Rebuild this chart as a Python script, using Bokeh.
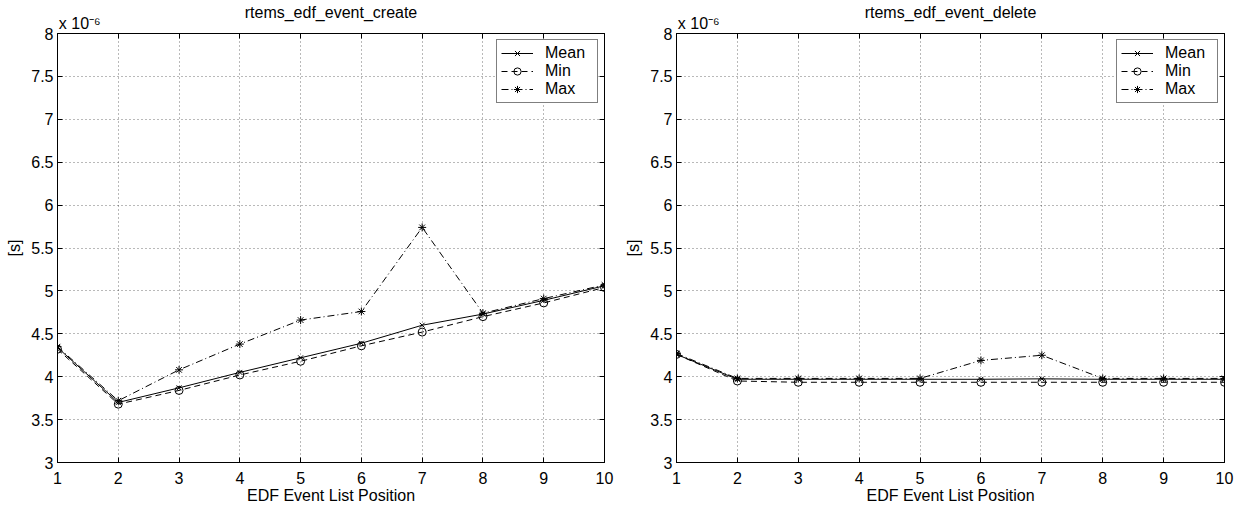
from bokeh.plotting import figure
from bokeh.models import Range1d, FixedTicker, LinearAxis, Legend, LegendItem
from bokeh.layouts import row
from bokeh.embed import file_html
from bokeh.resources import INLINE

# ---------------- data (values in units of 1e-6 s) ----------------
positions = [1, 2, 3, 4, 5, 6, 7, 8, 9, 10]
x_ticks = [1, 2, 3, 4, 5, 6, 7, 8, 9, 10]
y_ticks = [3, 3.5, 4, 4.5, 5, 5.5, 6, 6.5, 7, 7.5, 8]
y_tick_labels = ["3", "3.5", "4", "4.5", "5", "5.5", "6", "6.5", "7", "7.5", "8"]

titles = ["rtems_edf_event_create", "rtems_edf_event_delete"]
x_label = "EDF Event List Position"
y_label = "[s]"
scale_text = "x 10\u207b\u2076"
series_names = ["Mean", "Min", "Max"]

create_mean = [4.34, 3.70, 3.87, 4.05, 4.22, 4.39, 4.60, 4.73, 4.89, 5.06]
create_min = [4.32, 3.68, 3.84, 4.02, 4.18, 4.36, 4.52, 4.70, 4.86, 5.04]
create_max = [4.35, 3.72, 4.08, 4.38, 4.66, 4.76, 5.74, 4.74, 4.91, 5.07]

delete_mean = [4.26, 3.97, 3.97, 3.97, 3.97, 3.97, 3.975, 3.97, 3.97, 3.97]
delete_min = [4.26, 3.95, 3.935, 3.935, 3.935, 3.935, 3.935, 3.935, 3.935, 3.935]
delete_max = [4.27, 3.98, 3.98, 3.98, 3.98, 4.19, 4.25, 3.98, 3.98, 3.98]

FONT = "Liberation Sans"
FS = "16px"
NBSP = "\u00a0"


def style_axis(ax):
    ax.major_tick_in = 5
    ax.major_tick_out = 0
    ax.minor_tick_in = 0
    ax.minor_tick_out = 0
    ax.axis_line_color = "black"
    ax.major_tick_line_color = "black"
    ax.major_label_text_font = FONT
    ax.major_label_text_font_size = FS
    ax.major_label_text_color = "black"
    ax.axis_label_text_font = FONT
    ax.axis_label_text_font_size = FS
    ax.axis_label_text_font_style = "normal"
    ax.axis_label_text_color = "black"


def make_panel(title, mean_vals, min_vals, max_vals, width, bl, br):
    p = figure(width=width, height=506, x_range=Range1d(1, 10), y_range=Range1d(3, 8),
               output_backend="svg", toolbar_location=None,
               min_border_left=bl, min_border_right=br,
               min_border_top=30, min_border_bottom=44)
    p.outline_line_color = "black"
    p.outline_line_width = 1
    p.background_fill_color = "white"
    p.border_fill_color = "white"

    p.xaxis.ticker = FixedTicker(ticks=x_ticks)
    p.yaxis.ticker = FixedTicker(ticks=y_ticks)
    p.yaxis.major_label_overrides = {v: s for v, s in zip(y_ticks, y_tick_labels)}
    style_axis(p.xaxis[0])
    style_axis(p.yaxis[0])
    p.xaxis.axis_label = x_label
    p.xaxis.major_label_standoff = 9
    p.xaxis.axis_label_standoff = 0
    p.yaxis.axis_label = y_label
    p.yaxis.major_label_standoff = 4
    p.yaxis.axis_label_standoff = 5

    # top axis: tick marks, exponent note (left) and panel title (centered)
    top_labels = {t: "" for t in x_ticks}
    top_labels[x_ticks[0]] = NBSP * 10 + scale_text
    top = LinearAxis(ticker=FixedTicker(ticks=x_ticks), major_label_overrides=top_labels,
                     axis_label=title)
    style_axis(top)
    top.major_label_standoff = 2
    top.axis_label_standoff = -9
    p.add_layout(top, "above")

    right = LinearAxis(ticker=FixedTicker(ticks=y_ticks),
                       major_label_overrides={t: "" for t in y_ticks})
    style_axis(right)
    right.major_label_standoff = 0
    p.add_layout(right, "right")

    p.xgrid.ticker = FixedTicker(ticks=x_ticks)
    p.ygrid.ticker = FixedTicker(ticks=y_ticks)
    for g in (p.xgrid[0], p.ygrid[0]):
        g.grid_line_color = "black"
        g.grid_line_alpha = 0.55
        g.grid_line_dash = "1 3"
        g.grid_line_width = 1

    l1 = p.line(positions, mean_vals, line_color="black", line_width=1)
    s1 = p.scatter(positions, mean_vals, marker="x", size=7, line_color="black", line_width=1)
    l2 = p.line(positions, min_vals, line_color="black", line_width=1, line_dash="6 4")
    s2 = p.scatter(positions, min_vals, marker="circle", size=8, line_color="black",
                   fill_color=None, line_width=1)
    l3 = p.line(positions, max_vals, line_color="black", line_width=1, line_dash="7 3 1 3")
    s3 = p.scatter(positions, max_vals, marker="asterisk", size=8, line_color="black", line_width=1)

    legend = Legend(items=[LegendItem(label=series_names[0], renderers=[l1, s1]),
                           LegendItem(label=series_names[1], renderers=[l2, s2]),
                           LegendItem(label=series_names[2], renderers=[l3, s3])],
                    location="top_right")
    legend.border_line_color = "black"
    legend.border_line_width = 1
    legend.background_fill_color = "white"
    legend.background_fill_alpha = 1
    legend.padding = 4
    legend.spacing = 0
    legend.margin = 6
    legend.glyph_width = 32
    legend.glyph_height = 18
    legend.label_height = 18
    legend.label_width = 48
    legend.label_standoff = 12
    legend.label_text_font = FONT
    legend.label_text_font_size = FS
    legend.label_text_color = "black"
    p.add_layout(legend)
    return p


p1 = make_panel(titles[0], create_mean, create_min, create_max, 620, 57, 16)
p2 = make_panel(titles[1], delete_mean, delete_min, delete_max, 622, 56, 18)
layout = row(p1, p2)

open("out.html", "w").write(file_html(layout, INLINE))
